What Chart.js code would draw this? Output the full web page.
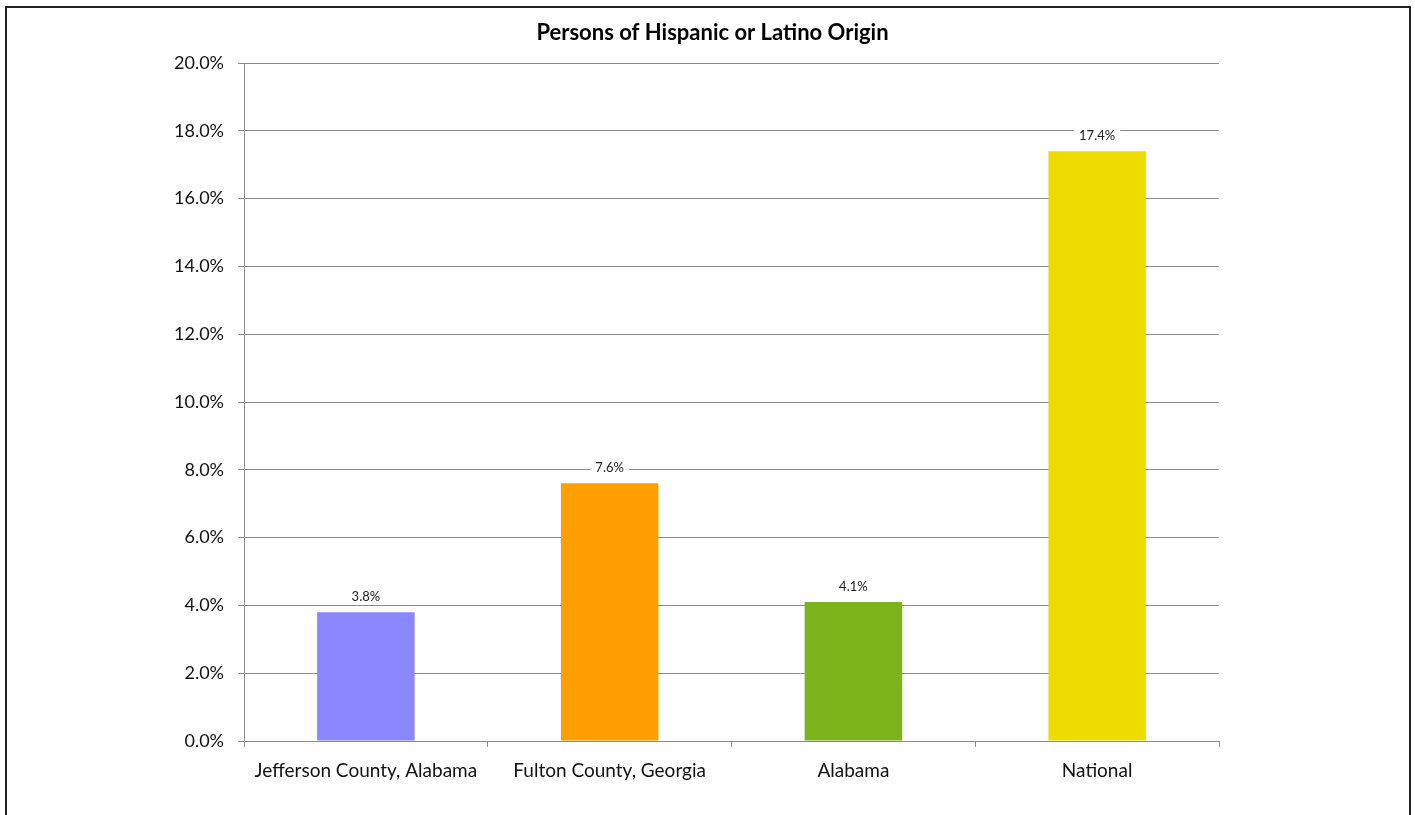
<!DOCTYPE html>
<html>
<head>
<meta charset="utf-8">
<script src="https://cdn.jsdelivr.net/npm/chart.js@4"></script>
<style>
  html, body { margin: 0; padding: 0; background: #fff; }
  #wrap { position: relative; width: 1415px; height: 815px; overflow: hidden; }
  #frame {
    position: absolute; left: 5px; top: 6px; width: 1402px; height: 830px;
    border: 2px solid #222; pointer-events: none;
  }
  canvas { position: absolute; left: 0; top: 0; }
</style>
</head>
<body>
<div id="wrap">
  <canvas id="chart" width="1415" height="815"></canvas>
  <div id="frame"></div>
</div>
<script>
// chart data
const categories = ['Jefferson County, Alabama', 'Fulton County, Georgia', 'Alabama', 'National'];
const hispanicPct = [3.8, 7.6, 4.1, 17.4];
const barColors = ['#8b87ff', '#ff9e00', '#7db41c', '#eedc00'];
const yTicks = [0, 2, 4, 6, 8, 10, 12, 14, 16, 18, 20];

const FONT = 'Lato, "Noto Sans", sans-serif';

// draws the value label over each bar, with a white box behind it
const valueLabels = {
  id: 'valueLabels',
  afterDatasetsDraw(chart) {
    const ctx = chart.ctx;
    const meta = chart.getDatasetMeta(0);
    ctx.save();
    ctx.font = '13px ' + FONT;
    ctx.textAlign = 'center';
    ctx.textBaseline = 'middle';
    meta.data.forEach((bar, i) => {
      const txt = hispanicPct[i].toFixed(1) + '%';
      const w = ctx.measureText(txt).width + 10;
      const y = bar.y - 15.5;
      ctx.fillStyle = '#fff';
      ctx.fillRect(bar.x - w / 2, y - 8, w, 16);
      ctx.fillStyle = '#222';
      ctx.fillText(txt, bar.x, y);
    });
    ctx.restore();
  }
};

new Chart(document.getElementById('chart'), {
  type: 'bar',
  data: {
    labels: categories,
    datasets: [{
      data: hispanicPct,
      backgroundColor: barColors,
      borderWidth: 0,
      barPercentage: 1,
      categoryPercentage: 0.4
    }]
  },
  options: {
    responsive: false,
    animation: false,
    layout: { padding: { left: 10, right: 0, top: 0, bottom: 0 } },
    plugins: {
      legend: { display: false },
      tooltip: { enabled: false },
      title: {
        display: true,
        text: 'Persons of Hispanic or Latino Origin',
        color: '#000',
        font: { family: FONT, size: 22, weight: 'bold' },
        padding: { top: 20, bottom: 16.6 }
      }
    },
    scales: {
      x: {
        grid: {
          offset: true,
          drawOnChartArea: false,
          drawTicks: true,
          tickLength: 6,
          color: '#8c8c8c'
        },
        border: { color: '#8c8c8c', width: 1 },
        ticks: {
          color: '#111',
          font: { family: FONT, size: 19 },
          padding: 12,
          maxRotation: 0
        },
        afterFit(scale) { scale.height = 74; }
      },
      y: {
        min: 0,
        max: 20,
        afterBuildTicks(scale) { scale.ticks = yTicks.map(v => ({ value: v })); },
        grid: { color: '#8c8c8c', tickLength: 6 },
        border: { color: '#8c8c8c', width: 1 },
        ticks: {
          color: '#111',
          font: { family: FONT, size: 18 },
          padding: 14,
          callback: v => v.toFixed(1) + '%'
        },
        afterFit(scale) { scale.width = 234; }
      },
      // empty right-hand axis, only reserves the blank space right of the plot
      yRight: {
        position: 'right',
        grid: { display: false },
        border: { display: false },
        ticks: { display: false },
        afterFit(scale) { scale.width = 196; }
      }
    }
  },
  plugins: [valueLabels]
});
</script>
</body>
</html>
